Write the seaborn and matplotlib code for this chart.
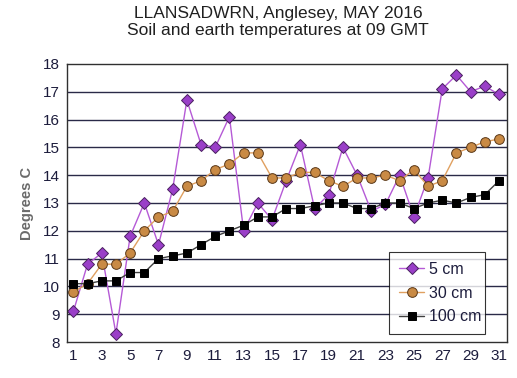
"""Llansadwrn soil/earth temperatures at 09 GMT, May 2016."""

import matplotlib
matplotlib.use("Agg")
import matplotlib.pyplot as plt
import numpy as np
import pandas as pd
import seaborn as sns

# ── Data ─────────────────────────────────────────────────────────────────────
days = list(range(1, 32))
temp_5cm = [9.1, 10.8, 11.2, 8.3, 11.8, 13.0, 11.5, 13.5, 16.7, 15.1,
            15.0, 16.1, 12.0, 13.0, 12.4, 13.8, 15.1, 12.8, 13.3, 15.0,
            14.0, 12.7, 12.95, 14.0, 12.5, 13.9, 17.1, 17.6, 17.0, 17.2,
            16.9]
temp_30cm = [9.8, 10.1, 10.8, 10.8, 11.2, 12.0, 12.5, 12.7, 13.6, 13.8,
             14.2, 14.4, 14.8, 14.8, 13.9, 13.9, 14.1, 14.1, 13.8, 13.6,
             13.9, 13.9, 14.0, 13.8, 14.2, 13.6, 13.8, 14.8, 15.0, 15.2,
             15.3]
temp_100cm = [10.1, 10.1, 10.2, 10.2, 10.5, 10.5, 11.0, 11.1, 11.2, 11.5,
              11.8, 12.0, 12.2, 12.5, 12.5, 12.8, 12.8, 12.9, 13.0, 13.0,
              12.8, 12.8, 13.0, 13.0, 12.8, 13.0, 13.1, 13.0, 13.2, 13.3,
              13.8]
series_labels = ["5 cm", "30 cm", "100 cm"]
y_ticks = list(range(8, 19))
x_ticks = list(range(1, 32, 2))

TEXT_COLOR = "#1c1c3c"
GRID_COLOR = "#2a2a48"

df = pd.DataFrame({"day": days, "5 cm": temp_5cm, "30 cm": temp_30cm, "100 cm": temp_100cm})

sns.set_style("white")
plt.rcParams["font.family"] = ["Liberation Sans", "DejaVu Sans"]

fig = plt.figure(figsize=(5.17, 3.78), dpi=100)
ax = fig.add_axes([0.129, 0.095, 0.851, 0.736])

styles = {
    "5 cm": dict(color="#b55ad6", marker="D", markersize=6.5, mfc="#9a3fc8", mec="#4a2060"),
    "30 cm": dict(color="#e0a060", marker="o", markersize=7, mfc="#c98a44", mec="#5a3818"),
    "100 cm": dict(color="#404040", marker="s", markersize=5.5, mfc="black", mec="black"),
}
for label in series_labels:
    st = styles[label]
    sns.lineplot(data=df, x="day", y=label, ax=ax, color=st["color"], linewidth=1,
                 marker=st["marker"], markersize=st["markersize"],
                 markerfacecolor=st["mfc"], markeredgecolor=st["mec"],
                 markeredgewidth=0.7, label=label)

# horizontal grid at each degree
for y in y_ticks[1:-1]:
    ax.axhline(y, color=GRID_COLOR, linewidth=1, zorder=0)

ax.set_xlim(0.53, 31.54)
ax.set_ylim(8, 18)
ax.set_xticks(x_ticks)
ax.set_yticks(y_ticks)
ax.tick_params(axis="both", length=0, labelsize=11, colors=TEXT_COLOR, pad=5)
ax.set_xlabel("")
ax.set_ylabel("Degrees C", fontsize=10.5, color="#6a6a6a", fontweight="bold", labelpad=6)
for side in ["left", "bottom", "top", "right"]:
    ax.spines[side].set_visible(True)
    ax.spines[side].set_color("#303030")
    ax.spines[side].set_linewidth(1)

leg = ax.legend(loc="lower left", bbox_to_anchor=(0.733, 0.029, 0.218, 0.298),
                mode="expand", borderaxespad=0, fontsize=11.5, frameon=True,
                fancybox=False, handlelength=1.6, handletextpad=0.3,
                labelspacing=0.55, borderpad=0.6)
leg.get_frame().set_edgecolor("black")
leg.get_frame().set_linewidth(0.8)
for t in leg.get_texts():
    t.set_color(TEXT_COLOR)

fig.text(0.538, 0.965, "LLANSADWRN, Anglesey, MAY 2016", ha="center", va="center",
         fontsize=12.5, color="#202020")
fig.text(0.538, 0.918, "Soil and earth temperatures at 09 GMT", ha="center", va="center",
         fontsize=12.5, color="#202020")

fig.savefig("out.png", dpi=100)
